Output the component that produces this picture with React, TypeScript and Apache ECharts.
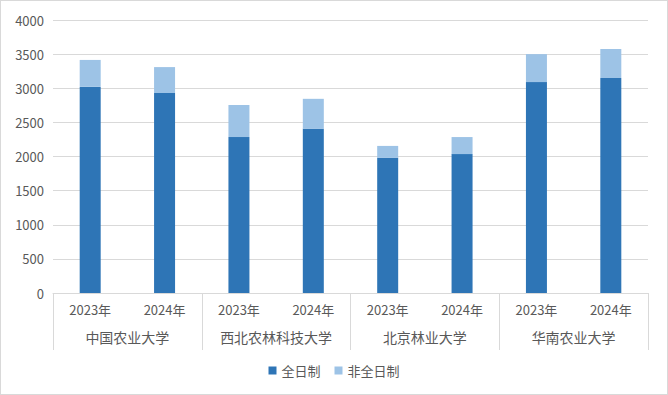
import React, { useEffect, useRef } from "react";
import * as echarts from "echarts";

const years = ["2023年", "2024年", "2023年", "2024年", "2023年", "2024年", "2023年", "2024年"];
const universities = ["中国农业大学", "西北农林科技大学", "北京林业大学", "华南农业大学"];
const fullTime = [3020, 2930, 2285, 2405, 1980, 2035, 3090, 3150];
const partTime = [395, 380, 470, 440, 175, 250, 410, 425];
const yTicks = [0, 500, 1000, 1500, 2000, 2500, 3000, 3500, 4000];

export default function App() {
  const ref = useRef<HTMLDivElement>(null);
  useEffect(() => {
    document.body.style.margin = "0";
    const chart = echarts.init(ref.current!, null, { renderer: "svg" });
    const font = "'Microsoft YaHei', 'Noto Sans CJK SC', sans-serif";
    chart.setOption({
      animation: false,
      textStyle: { fontFamily: font },
      grid: { left: 52, right: 19, top: 19, bottom: 101 },
      legend: {
        bottom: 12,
        left: "center",
        itemWidth: 8,
        itemHeight: 8,
        itemGap: 14,
        icon: "rect",
        textStyle: { color: "#595959", fontSize: 13, fontFamily: font },
        data: ["全日制", "非全日制"],
      },
      xAxis: [
        {
          type: "category",
          data: years,
          axisLine: { lineStyle: { color: "#d9d9d9" } },
          axisTick: { show: false },
          axisLabel: { color: "#595959", fontSize: 13, margin: 10, interval: 0 },
        },
        {
          type: "category",
          data: universities,
          position: "bottom",
          axisLine: { show: false },
          axisTick: { show: true, length: 57, lineStyle: { color: "#d9d9d9" }, interval: 0 },
          axisLabel: { color: "#595959", fontSize: 14, margin: 37, interval: 0 },
          splitLine: { show: false },
        },
      ],
      yAxis: {
        type: "value",
        min: 0,
        max: 4000,
        interval: 500,
        axisLine: { show: false },
        axisTick: { show: false },
        axisLabel: { color: "#595959", fontSize: 13, margin: 9, formatter: (v: number) => (yTicks.includes(v) ? String(v) : "") },
        splitLine: { lineStyle: { color: "#d9d9d9" } },
      },
      series: [
        {
          name: "全日制",
          type: "bar",
          stack: "total",
          data: fullTime,
          barWidth: 21,
          itemStyle: { color: "#2E75B6" },
          xAxisIndex: 0,
        },
        {
          name: "非全日制",
          type: "bar",
          stack: "total",
          data: partTime,
          barWidth: 21,
          itemStyle: { color: "#9DC3E6" },
          xAxisIndex: 0,
        },
      ],
    });
    return () => chart.dispose();
  }, []);
  return (
    <div
      style={{
        width: 668,
        height: 395,
        boxSizing: "border-box",
        border: "1px solid #d9d9d9",
        background: "#fff",
      }}
    >
      <div ref={ref} style={{ width: 666, height: 393 }} />
    </div>
  );
}
